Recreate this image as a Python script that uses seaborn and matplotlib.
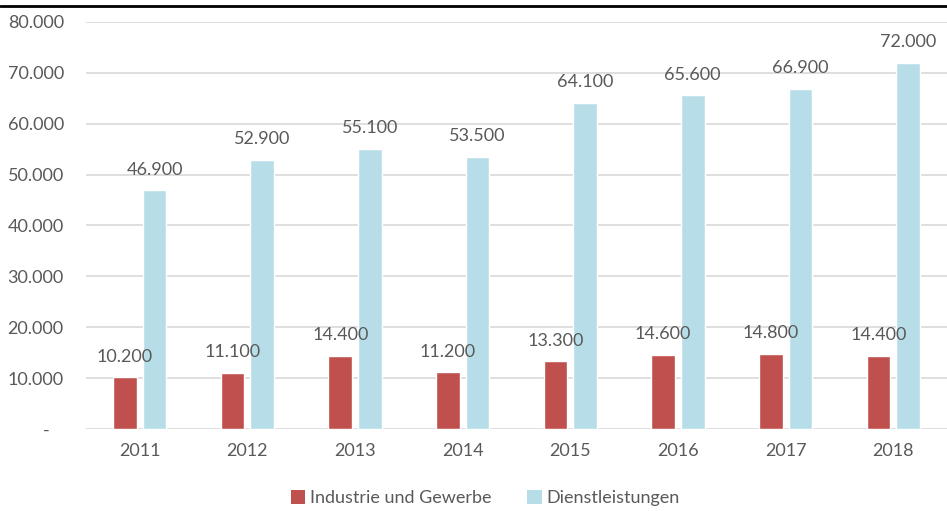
import matplotlib
matplotlib.use("Agg")
import matplotlib.pyplot as plt
from matplotlib.lines import Line2D
from matplotlib.patches import Patch
import seaborn as sns
import pandas as pd

years = ["2011", "2012", "2013", "2014", "2015", "2016", "2017", "2018"]
industrie = [10200, 11100, 14400, 11200, 13300, 14600, 14800, 14400]
dienst = [46900, 52900, 55100, 53500, 64100, 65600, 66900, 72000]
series_names = ["Industrie und Gewerbe", "Dienstleistungen"]
colors = ["#C0504D", "#B7DEE8"]
y_ticks = [0, 10000, 20000, 30000, 40000, 50000, 60000, 70000, 80000]

def fmt(v):
    return "-" if v == 0 else f"{v:,.0f}".replace(",", ".")

df = pd.DataFrame({
    "Jahr": years * 2,
    "Wert": industrie + dienst,
    "Sektor": [series_names[0]] * len(years) + [series_names[1]] * len(years),
})

sns.set_theme(style="white")
plt.rcParams["font.family"] = ["Lato", "DejaVu Sans"]
text_color = "#595959"

fig = plt.figure(figsize=(9.47, 5.11), dpi=100)
ax = fig.add_axes([86 / 947, 1 - 429 / 511, 861 / 947, 407 / 511])

sns.barplot(data=df, x="Jahr", y="Wert", hue="Sektor", palette=colors,
            width=0.55, gap=0.2, ax=ax, legend=False, saturation=1)

ax.set_ylim(0, 80000)
ax.set_yticks(y_ticks)
ax.set_yticklabels([fmt(v) + ("   " if v == 0 else "") for v in y_ticks])
ax.set_xlim(-0.5, len(years) - 0.5)
ax.grid(axis="y", color="#D9D9D9", linewidth=1.2)
ax.set_axisbelow(True)
for s in ax.spines.values():
    s.set_visible(False)
ax.set_xlabel("")
ax.set_ylabel("")
ax.tick_params(axis="both", length=0, labelsize=13, labelcolor=text_color)
ax.tick_params(axis="x", pad=10)
ax.tick_params(axis="y", pad=16)

for container in ax.containers:
    labels = [fmt(v) for v in container.datavalues]
    ax.bar_label(container, labels=labels, padding=9, fontsize=13, color=text_color)

# Top border line across the figure
fig.add_artist(Line2D([0, 1], [1 - 6 / 511, 1 - 6 / 511], color="black", linewidth=2,
                      transform=fig.transFigure))

handles = [Patch(facecolor=c, edgecolor="none") for c in colors]
fig.legend(handles, series_names, loc="center", bbox_to_anchor=(485 / 947, 1 - 498 / 511),
           ncol=2, frameon=False, fontsize=13, handlelength=0.8, handleheight=0.8,
           handletextpad=0.25, columnspacing=2.0, labelcolor=text_color)

fig.savefig("out.png", dpi=100)
